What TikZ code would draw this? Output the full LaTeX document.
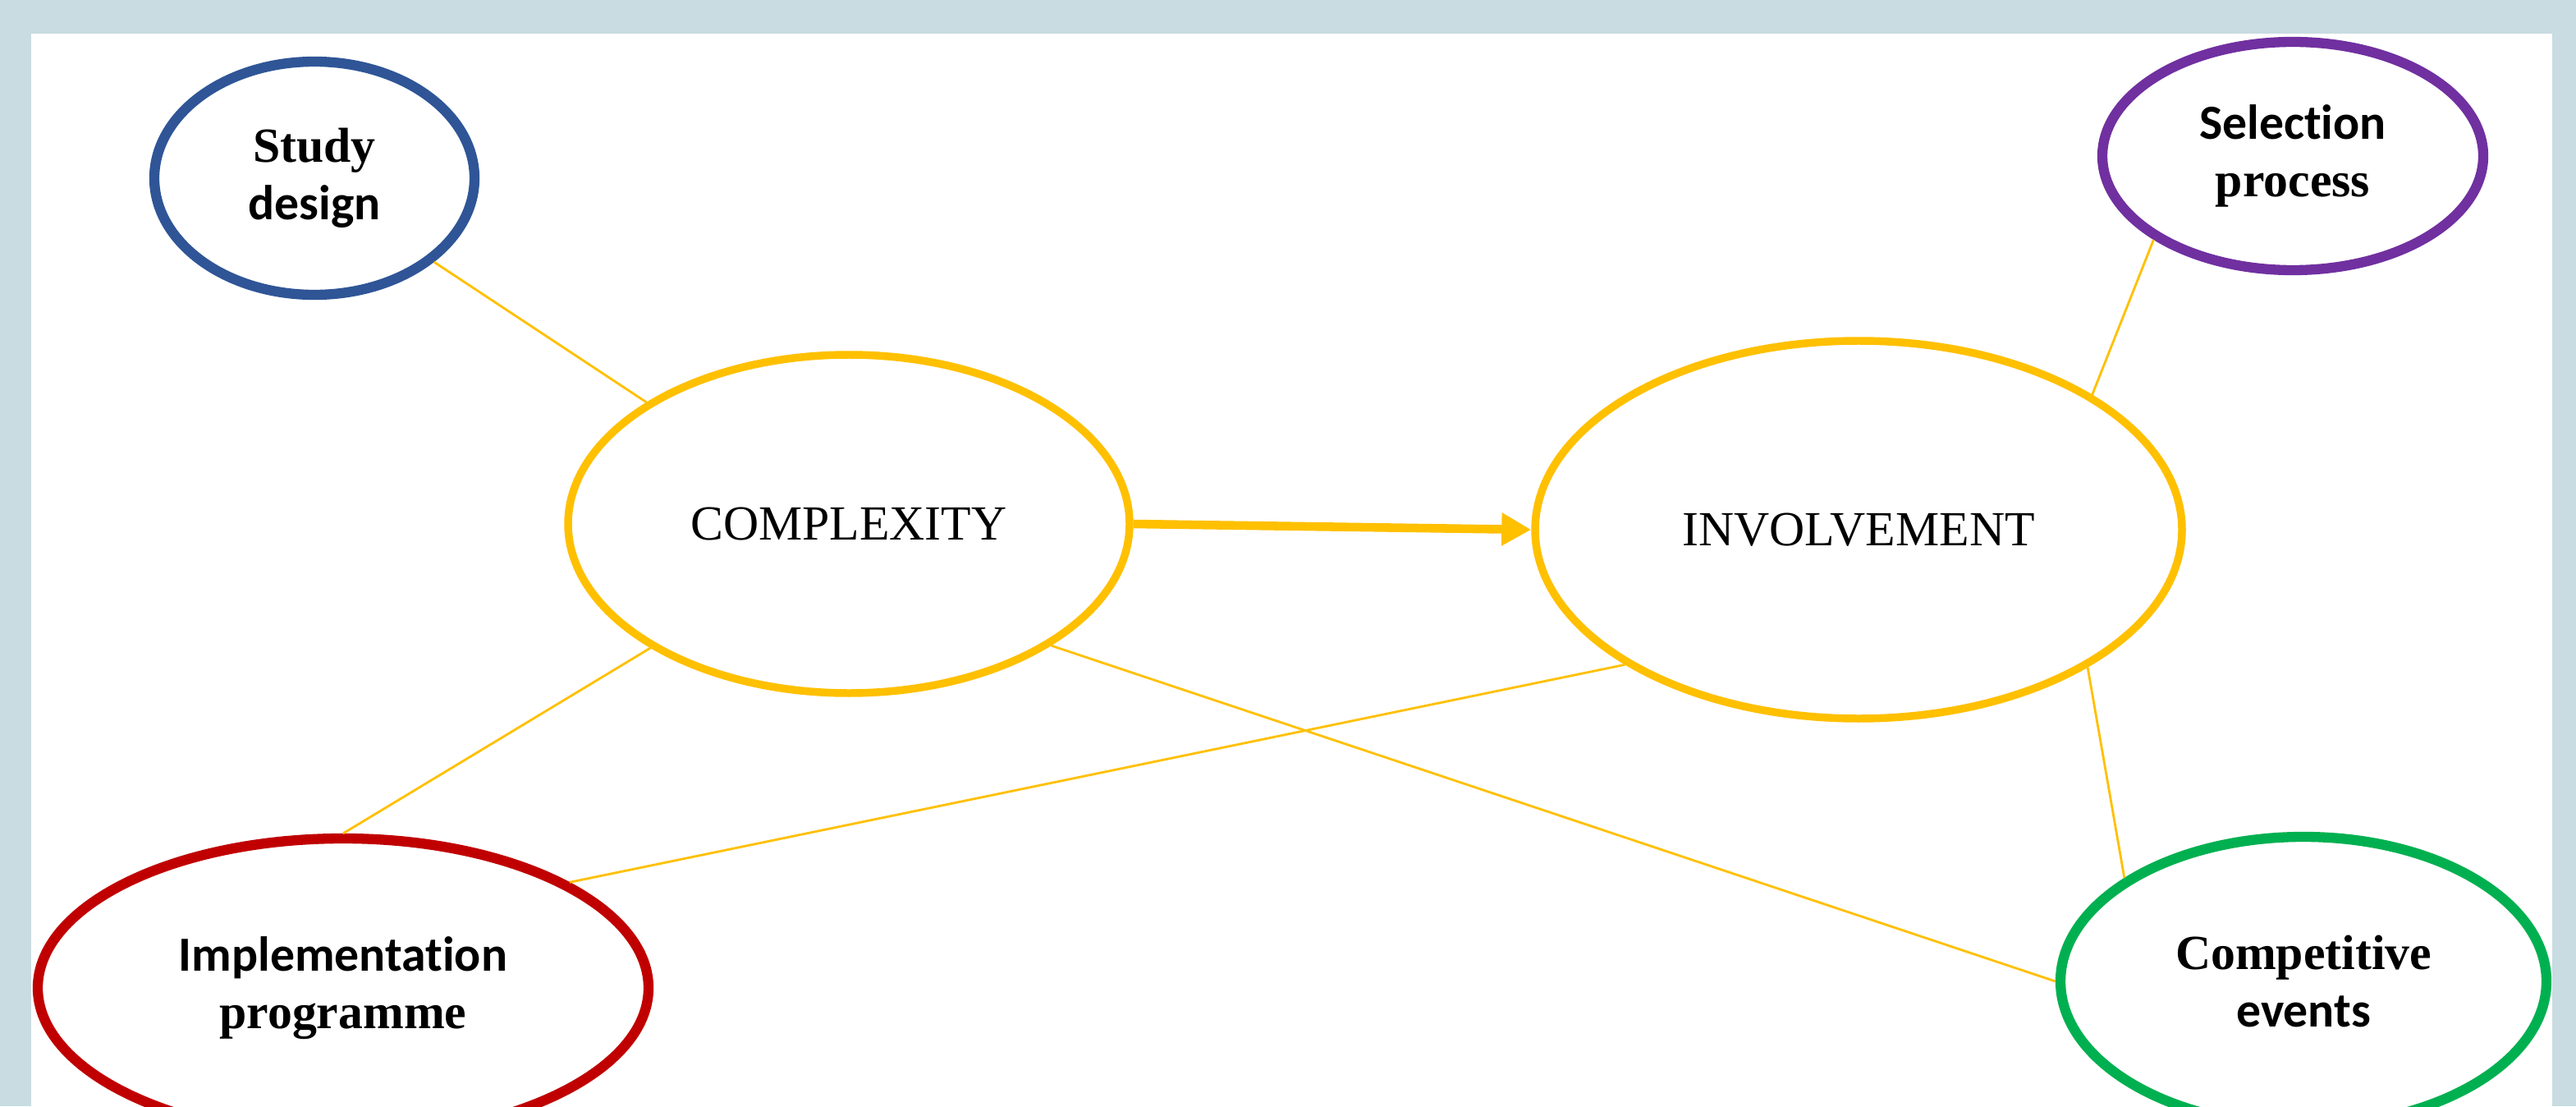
\documentclass[tikz,border=0pt]{standalone}
\usepackage{fontspec}
\setmainfont{Liberation Serif}
\newfontfamily\calibrifont[Ligatures=NoCommon]{Carlito}
\usetikzlibrary{arrows.meta,shapes.geometric}
\definecolor{PanelBack}{HTML}{C8DCE1}
\definecolor{CoreYellow}{HTML}{FFC000}
\definecolor{StudyBlue}{HTML}{2F5597}
\definecolor{SelectPurple}{HTML}{7030A0}
\definecolor{ImplRed}{HTML}{C00000}
\definecolor{EventGreen}{HTML}{00B050}
\tikzset{factor/.style={ellipse,draw,line width=3.5pt,fill=white,inner sep=0pt,align=center,font=\fontsize{17}{20}\selectfont\bfseries},
  core/.style={ellipse,draw=CoreYellow,line width=2.7pt,fill=white,inner sep=0pt,font=\fontsize{17}{20}\selectfont}}

\begin{document}
\begin{tikzpicture}[x=1cm,y=1cm,
  link/.style={CoreYellow,line width=0.8pt},
  lead/.style={-{Triangle[length=0.36cm,width=0.38cm]},CoreYellow,line width=3pt}]
\useasboundingbox (0,0) rectangle (31.38,13.47);
\fill[PanelBack] (0,0) rectangle (31.38,13.47);
\fill[white] (0.38,0) rectangle (31.09,13.06);
\begin{scope}
\clip (0.38,0) rectangle (31.09,13.06);
% Central constructs
\node[core,minimum width=6.84cm,minimum height=4.12cm] (complexity) at (10.34,7.09) {COMPLEXITY};
\node[core,minimum width=7.88cm,minimum height=4.60cm] (involvement) at (22.64,7.02) {INVOLVEMENT};
\draw[lead] (complexity.east)--(involvement.west);
% Surrounding factors
\node[factor,draw=StudyBlue,minimum width=3.90cm,minimum height=2.84cm] (study) at (3.83,11.30) {Study\\{\calibrifont design}};
\node[factor,draw=SelectPurple,minimum width=4.64cm,minimum height=2.78cm] (selection) at (27.93,11.57) {{\calibrifont Selection}\\process};
\node[factor,draw=ImplRed,minimum width=7.44cm,minimum height=3.64cm] (implementation) at (4.18,1.44) {{\calibrifont Implementation}\\programme};
\node[factor,draw=EventGreen,minimum width=5.92cm,minimum height=3.52cm] (events) at (28.06,1.52) {Competitive\\{\calibrifont events}};
\draw[link] (study.-35)--(complexity.149);
\draw[link] (selection.211)--(involvement.30);
\draw[link] (complexity.212)--(implementation.90);
\draw[link] (involvement.210)--(implementation.25);
\draw[link] (complexity.-31)--(events.180);
\draw[link] (involvement.-31)--(events.150);
\end{scope}
\end{tikzpicture}
\end{document}
